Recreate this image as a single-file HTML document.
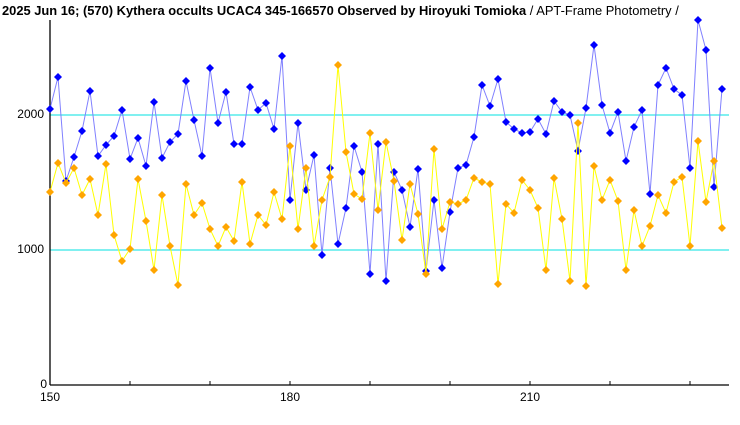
<!DOCTYPE html>
<html><head><meta charset="utf-8"><style>
html,body{margin:0;padding:0;background:#fff;width:740px;height:425px;overflow:hidden}
svg{display:block}
text{font-family:"Liberation Sans","DejaVu Sans",sans-serif;font-size:12px;fill:#000}
</style></head><body>
<svg id="s" width="740" height="425" xmlns="http://www.w3.org/2000/svg">
<text x="2" y="15" style="font-weight:bold;font-size:12.9px">2025 Jun 16; (570) Kythera occults UCAC4 345-166570 Observed by Hiroyuki Tomioka<tspan style="font-weight:normal"> / APT-Frame Photometry /</tspan></text>
<line x1="50" y1="115" x2="729" y2="115" stroke="#00e0e0" stroke-width="1"/>
<line x1="50" y1="250" x2="729" y2="250" stroke="#00e0e0" stroke-width="1"/>
<line x1="50" y1="20" x2="50" y2="385" stroke="#000" stroke-width="1.3"/>
<line x1="50" y1="385" x2="729" y2="385" stroke="#000" stroke-width="1.3"/>
<g stroke="#000"><line x1="130" y1="381" x2="130" y2="385"/><line x1="210" y1="381" x2="210" y2="385"/><line x1="290" y1="381" x2="290" y2="385"/><line x1="370" y1="381" x2="370" y2="385"/><line x1="450" y1="381" x2="450" y2="385"/><line x1="530" y1="381" x2="530" y2="385"/><line x1="610" y1="381" x2="610" y2="385"/><line x1="690" y1="381" x2="690" y2="385"/></g>
<text x="44" y="118" text-anchor="end">2000</text>
<text x="44" y="253" text-anchor="end">1000</text>
<text x="47" y="388" text-anchor="end">0</text>
<text x="50" y="401" text-anchor="middle">150</text>
<text x="290" y="401" text-anchor="middle">180</text>
<text x="530" y="401" text-anchor="middle">210</text>
<g id="g"></g>
</svg>
<script>
var B=[109,77,181,157,131,91,156,145,136,110,159,138,166,102,158,142,134,81,120,156,68,123,92,144,144,87,110,103,129,56,200,123,190,155,255,168,244,208,146,172,274,144,281,172,190,227,169,271,200,268,212,168,165,137,85,106,79,122,129,133,132,119,134,101,112,115,151,108,45,105,133,112,161,127,110,194,85,68,89,95,168,20,50,187,89];
var O=[192,163,183,168,195,179,215,164,235,261,249,179,221,270,195,246,285,184,215,203,229,246,227,241,182,244,215,225,192,219,146,229,168,246,200,177,65,152,194,199,133,210,142,181,240,184,214,274,149,229,202,204,200,178,182,184,284,204,213,180,190,208,270,178,219,281,123,286,166,200,180,201,270,210,246,226,195,213,182,177,246,141,202,161,228];
var g=document.getElementById('g'),h='';
function series(d,lc,pc){var p=d.map(function(y,i){return (50+8*i)+','+y}).join(' ');
h+='<polyline points="'+p+'" fill="none" stroke="'+lc+'" stroke-width="1"/>';
d.forEach(function(y,i){var x=50+8*i;h+='<polygon points="'+x+','+(y-4)+' '+(x+4)+','+y+' '+x+','+(y+4)+' '+(x-4)+','+y+'" fill="'+pc+'"/>';});}
series(B,'#8080ff','#0000ff');
series(O,'#ffff00','#ffa500');
g.innerHTML=h;
</script>
</body></html>
